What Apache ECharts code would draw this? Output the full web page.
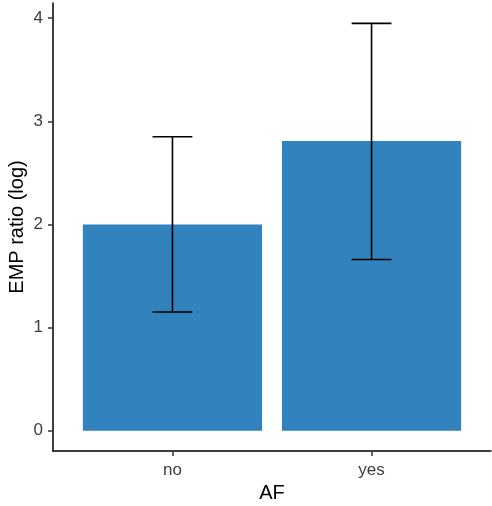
<!DOCTYPE html>
<html>
<head>
<meta charset="utf-8">
<script src="https://cdn.jsdelivr.net/npm/echarts@6/dist/echarts.min.js"></script>
<style>
html,body{margin:0;padding:0;background:#fff;}
#chart{width:492px;height:506px;}
</style>
</head>
<body>
<div id="chart"></div>
<script>
var categories = ['no', 'yes'];
var ratioValues = [2.0, 2.81];
var lowerValues = [1.15, 1.66];
var upperValues = [2.85, 3.95];
var yTicks = [0, 1, 2, 3, 4];

var myChart = echarts.init(document.getElementById('chart'));

// positions 1..n on a value axis, like ggplot's discrete scale
var barData = categories.map(function (c, i) { return [i + 1, ratioValues[i]]; });
var errData = categories.map(function (c, i) { return [i + 1, lowerValues[i], upperValues[i]]; });
var xPos = categories.map(function (c, i) { return i + 1; });

var font = 'Liberation Sans, Arial, sans-serif';

var option = {
    animation: false,
    grid: { left: 53, right: 1, top: 3, bottom: 55, outerBoundsMode: 'none', containLabel: false },
    xAxis: {
        type: 'value',
        min: 0.4,
        max: categories.length + 0.6,
        name: 'AF',
        nameLocation: 'middle',
        nameGap: 28,
        nameTextStyle: { color: '#000', fontSize: 20, fontFamily: font },
        splitLine: { show: false },
        axisLine: { onZero: false, lineStyle: { color: '#000', width: 1.5 } },
        axisTick: { customValues: xPos, length: 5, lineStyle: { color: '#333', width: 1.5 } },
        axisLabel: {
            customValues: xPos,
            margin: 11,
            color: '#3d3d3d',
            fontSize: 17,
            fontFamily: font,
            formatter: function (v) { return categories[Math.round(v) - 1]; }
        }
    },
    yAxis: {
        type: 'value',
        min: -0.1975,
        max: 4.1475,
        name: 'EMP ratio (log)',
        nameLocation: 'middle',
        nameGap: 26,
        nameMoveOverlap: false,
        nameTextStyle: { color: '#000', fontSize: 20, fontFamily: font },
        splitLine: { show: false },
        axisLine: { show: true, onZero: false, lineStyle: { color: '#000', width: 1.5 } },
        axisTick: { show: true, customValues: yTicks, length: 5, lineStyle: { color: '#333', width: 1.5 } },
        axisLabel: {
            customValues: yTicks,
            margin: 10,
            color: '#3d3d3d',
            fontSize: 17,
            fontFamily: font
        }
    },
    series: [
        {
            type: 'custom',
            data: barData,
            renderItem: function (params, api) {
                var x = api.value(0);
                var top = api.coord([x, api.value(1)]);
                var base = api.coord([x, 0]);
                var w = api.size([0.9, 0])[0];
                return {
                    type: 'rect',
                    shape: { x: top[0] - w / 2, y: top[1], width: w, height: base[1] - top[1] },
                    style: { fill: '#3282bd' }
                };
            }
        },
        {
            type: 'custom',
            data: errData,
            z: 3,
            renderItem: function (params, api) {
                var x = api.value(0);
                var lo = api.coord([x, api.value(1)]);
                var hi = api.coord([x, api.value(2)]);
                var hw = api.size([0.2, 0])[0] / 2;
                var st = { stroke: '#000', lineWidth: 1.6 };
                return {
                    type: 'group',
                    children: [
                        { type: 'line', shape: { x1: lo[0], y1: lo[1], x2: hi[0], y2: hi[1] }, style: st },
                        { type: 'line', shape: { x1: lo[0] - hw, y1: lo[1], x2: lo[0] + hw, y2: lo[1] }, style: st },
                        { type: 'line', shape: { x1: hi[0] - hw, y1: hi[1], x2: hi[0] + hw, y2: hi[1] }, style: st }
                    ]
                };
            }
        }
    ]
};

myChart.setOption(option, true);
</script>
</body>
</html>
